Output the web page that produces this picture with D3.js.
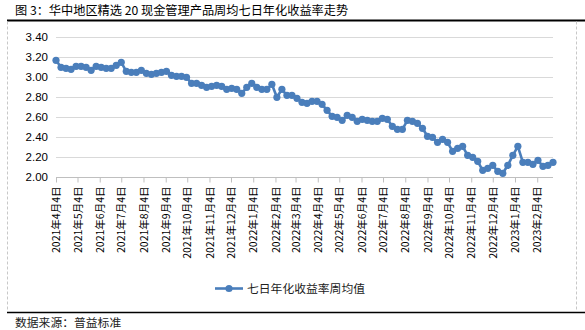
<!DOCTYPE html>
<html><head><meta charset="utf-8">
<script src="https://cdn.jsdelivr.net/npm/d3@7"></script>
<style>
html,body{margin:0;padding:0;background:#fff;}
svg{display:block;}
</style></head>
<body><svg id="c" width="585" height="330"></svg>
<script>
const titleText = "图 3：华中地区精选 20 现金管理产品周均七日年化收益率走势";
const seriesName = "七日年化收益率周均值";
const sourceText = "数据来源：普益标准";
const startDate = "2021-04-04";
const weeklyValues = [
 3.17,3.10,3.09,3.08,3.11,3.11,3.10,3.07,3.11,3.10,
 3.09,3.09,3.12,3.15,3.06,3.05,3.05,3.07,3.04,3.03,
 3.04,3.05,3.06,3.02,3.01,3.01,3.00,2.94,2.94,2.92,
 2.90,2.91,2.92,2.91,2.88,2.89,2.88,2.84,2.90,2.94,
 2.90,2.88,2.88,2.93,2.80,2.88,2.82,2.82,2.79,2.75,
 2.74,2.76,2.76,2.73,2.67,2.61,2.60,2.57,2.62,2.60,
 2.56,2.58,2.57,2.56,2.56,2.59,2.58,2.51,2.48,2.48,
 2.57,2.56,2.54,2.49,2.41,2.40,2.35,2.38,2.35,2.26,
 2.29,2.31,2.22,2.20,2.16,2.07,2.09,2.12,2.06,2.04,
 2.12,2.22,2.31,2.15,2.15,2.13,2.17,2.11,2.12,2.15
];
const xTickLabels = ["2021年4月4日","2021年5月4日","2021年6月4日","2021年7月4日","2021年8月4日","2021年9月4日","2021年10月4日","2021年11月4日","2021年12月4日","2022年1月4日","2022年2月4日","2022年3月4日","2022年4月4日","2022年5月4日","2022年6月4日","2022年7月4日","2022年8月4日","2022年9月4日","2022年10月4日","2022年11月4日","2022年12月4日","2023年1月4日","2023年2月4日"];
const yTicks = [2.00,2.20,2.40,2.60,2.80,3.00,3.20,3.40];

const svg = d3.select("#c");
const cjk = "'Noto Sans CJK SC','Noto Sans',sans-serif";
const lat = "'Liberation Sans',Arial,sans-serif";
const color = "#4a7ebb";

const parseCN = d3.utcParse("%Y年%-m月%-d日");
const start = d3.utcParse("%Y-%m-%d")(startDate);
const data = weeklyValues.map((v,i)=>({date:d3.utcWeek.offset(start,i), value:v}));
const tickDates = xTickLabels.map(parseCN);

const x = d3.scaleUtc().domain([data[0].date, data[data.length-1].date]).range([56,553]);
const y = d3.scaleLinear().domain([2.0,3.4]).range([177.3,37.3]);

// title
svg.append("text").attr("x",15).attr("y",15).attr("font-family",cjk).attr("font-size",12.2)
  .attr("fill","#000").text(titleText);
// top & bottom rules
svg.append("line").attr("x1",7).attr("x2",585).attr("y1",20.5).attr("y2",20.5).attr("stroke","#000").attr("stroke-width",2);
svg.append("line").attr("x1",7).attr("x2",585).attr("y1",312.5).attr("y2",312.5).attr("stroke","#000").attr("stroke-width",1.5);
// dashed frame sides
[7.5,576.5].forEach(xx=>svg.append("line").attr("x1",xx).attr("x2",xx).attr("y1",21.5).attr("y2",311.5)
  .attr("stroke","#c8c8c8").attr("stroke-dasharray","3,2"));

// gridlines
svg.append("g").selectAll("line").data(yTicks.filter(d=>d>2.0)).join("line")
  .attr("x1",56).attr("x2",553).attr("y1",d=>Math.round(y(d))+0.5).attr("y2",d=>Math.round(y(d))+0.5)
  .attr("stroke","#d9d9d9").attr("stroke-width",1);

// y axis labels
const yAxis = d3.axisLeft(y).tickValues(yTicks).tickFormat(d3.format(".2f")).tickSize(0).tickPadding(0);
const gy = svg.append("g").attr("transform","translate(48,0)").call(yAxis);
gy.select(".domain").remove();
gy.selectAll("text").attr("font-family",lat).attr("font-size",11.5).attr("fill","#000");

// x axis
const xAxis = d3.axisBottom(x).tickValues(tickDates).tickFormat((d,i)=>xTickLabels[i]).tickSize(5).tickSizeOuter(0);
const gx = svg.append("g").attr("transform",`translate(0,${Math.round(y(2.0))+0.5})`).call(xAxis);
gx.select(".domain").attr("stroke","#bfbfbf").attr("d","M56,0H553");
gx.selectAll(".tick line").attr("stroke","#bfbfbf");
gx.selectAll(".tick text").attr("font-family",cjk).attr("font-size",10.5).attr("fill","#000")
  .attr("text-anchor","end").attr("dy","0.35em").attr("transform","translate(0,9) rotate(-90)")
  .attr("x",0).attr("y",0);

// line
const line = d3.line().x(d=>x(d.date)).y(d=>y(d.value));
svg.append("path").datum(data).attr("d",line).attr("fill","none").attr("stroke",color).attr("stroke-width",2.6).attr("stroke-linejoin","round");
svg.append("g").selectAll("circle").data(data).join("circle")
  .attr("cx",d=>x(d.date)).attr("cy",d=>y(d.value)).attr("r",3.6).attr("fill",color);

// legend
svg.append("line").attr("x1",215).attr("x2",243).attr("y1",288.5).attr("y2",288.5).attr("stroke",color).attr("stroke-width",2.6);
svg.append("circle").attr("cx",229).attr("cy",288.5).attr("r",3.6).attr("fill",color);
svg.append("text").attr("x",247).attr("y",292.5).attr("font-family",cjk).attr("font-size",11.8).attr("fill","#222").text(seriesName);

// source
svg.append("text").attr("x",15).attr("y",327).attr("font-family",cjk).attr("font-size",11.8).attr("fill","#222").text(sourceText);
</script>
</body></html>
